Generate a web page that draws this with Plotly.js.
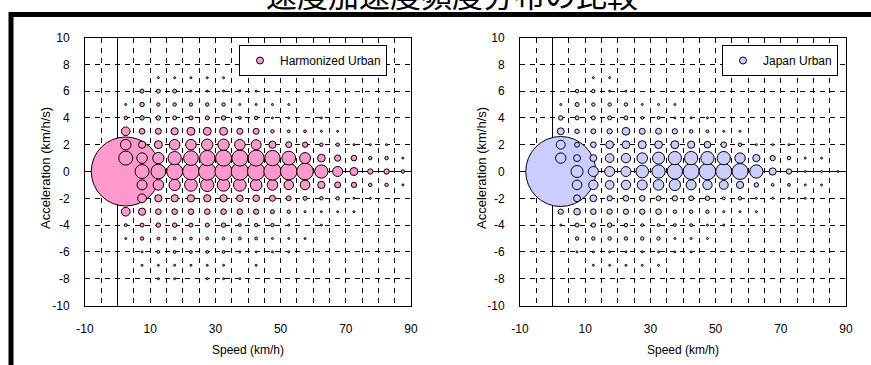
<!DOCTYPE html>
<html>
<head>
<meta charset="utf-8">
<script src="https://cdn.plot.ly/plotly-3.0.1.min.js"></script>
<style>
html,body{margin:0;padding:0;background:#fff;}
#chart{width:871px;height:365px;}
</style>
</head>
<body>
<div id="chart"></div>
<script>
// ---- data (frequency counts) ----
const speedBins = [2.5, 7.5, 12.5, 17.5, 22.5, 27.5, 32.5, 37.5, 42.5, 47.5, 52.5, 57.5, 62.5, 67.5, 72.5, 77.5, 82.5, 87.5];
const accelBins = [7, 6, 5, 4, 3, 2, 1, 0, -1, -2, -3, -4, -5, -6, -7, -8];

const harmonizedUrban = [
  [0, 0, 1, 1, 1, 1, 1, 0, 0, 0, 0, 0, 0, 0, 0, 0, 0, 0],
  [0, 4, 4, 4, 1, 1, 1, 1, 1, 0, 0, 0, 0, 0, 0, 0, 0, 0],
  [1, 5, 3, 3, 3, 3, 3, 1, 1, 1, 1, 0, 0, 0, 0, 0, 0, 0],
  [3, 5, 5, 4, 4, 4, 5, 2, 3, 1, 1, 0, 1, 0, 0, 0, 0, 0],
  [19, 8, 9, 13, 16, 16, 16, 9, 9, 3, 2, 2, 1, 1, 0, 0, 0, 0],
  [28, 13, 16, 28, 28, 32, 32, 28, 25, 13, 9, 7, 3, 3, 1, 1, 1, 0],
  [49, 28, 32, 44, 54, 59, 64, 64, 64, 59, 47, 30, 15, 10, 8, 3, 3, 1],
  [1190, 49, 54, 64, 69, 75, 75, 75, 75, 75, 69, 69, 44, 25, 16, 7, 7, 3],
  [36, 25, 28, 32, 40, 44, 40, 40, 34, 28, 23, 23, 13, 9, 7, 3, 3, 1],
  [20, 19, 13, 13, 13, 13, 13, 11, 11, 9, 6, 4, 3, 3, 1, 1, 0, 0],
  [19, 13, 8, 8, 8, 8, 8, 8, 7, 4, 3, 1, 1, 1, 1, 0, 0, 0],
  [2, 4, 5, 5, 4, 4, 5, 2, 3, 3, 1, 0, 1, 0, 0, 0, 0, 0],
  [1, 3, 2, 2, 2, 2, 2, 2, 2, 1, 1, 1, 0, 0, 0, 0, 0, 0],
  [0, 1, 2, 2, 2, 2, 2, 1, 1, 1, 1, 0, 0, 0, 0, 0, 0, 0],
  [0, 1, 1, 1, 1, 1, 1, 0, 1, 0, 0, 0, 0, 0, 0, 0, 0, 0],
  [0, 0, 1, 1, 0, 1, 1, 1, 0, 0, 0, 0, 0, 0, 0, 0, 0, 0]
];

const japanUrban = [
  [0, 0, 1, 1, 0, 0, 0, 0, 0, 0, 0, 0, 0, 0, 0, 0, 0, 0],
  [0, 3, 3, 1, 1, 0, 0, 0, 0, 0, 0, 0, 0, 0, 0, 0, 0, 0],
  [1, 4, 3, 3, 3, 1, 1, 1, 0, 0, 0, 0, 0, 0, 0, 0, 0, 0],
  [5, 4, 4, 4, 4, 2, 2, 1, 1, 1, 0, 0, 0, 0, 0, 0, 0, 0],
  [12, 5, 6, 7, 15, 9, 9, 7, 3, 2, 1, 1, 0, 0, 0, 0, 0, 0],
  [20, 6, 8, 15, 15, 16, 15, 16, 13, 11, 8, 3, 1, 1, 1, 0, 0, 0],
  [27, 12, 12, 19, 22, 28, 36, 44, 44, 44, 44, 27, 13, 7, 3, 1, 1, 0],
  [1225, 36, 25, 25, 25, 40, 44, 59, 64, 69, 64, 64, 44, 13, 7, 1, 1, 1],
  [30, 23, 22, 19, 22, 25, 28, 32, 25, 22, 20, 13, 5, 2, 2, 1, 1, 0],
  [16, 12, 12, 7, 8, 8, 6, 7, 6, 5, 2, 3, 1, 1, 1, 1, 0, 0],
  [7, 11, 8, 7, 7, 7, 8, 3, 3, 3, 1, 1, 1, 0, 0, 0, 0, 0],
  [1, 4, 5, 5, 3, 2, 2, 2, 2, 1, 1, 0, 0, 0, 0, 0, 0, 0],
  [0, 3, 3, 3, 3, 3, 3, 1, 1, 1, 0, 0, 0, 0, 0, 0, 0, 0],
  [0, 1, 1, 1, 1, 1, 1, 1, 1, 0, 0, 0, 0, 0, 0, 0, 0, 0],
  [0, 0, 1, 1, 1, 1, 1, 0, 0, 0, 0, 0, 0, 0, 0, 0, 0, 0],
  [0, 0, 0, 0, 0, 0, 0, 0, 0, 0, 0, 0, 0, 0, 0, 0, 0, 0]
];

const seriesNames = ['Harmonized Urban', 'Japan Urban'];
const xTickVals = [-10, 10, 30, 50, 70, 90];
const yTickVals = [-10, -8, -6, -4, -2, 0, 2, 4, 6, 8, 10];
const chartTitle = '速度加速度頻度分布の比較';
const xTitle = 'Speed (km/h)';
const yTitle = 'Acceleration (km/h/s)';

// ---- build points: speed-major, acceleration ascending (drawing order) ----
function buildPoints(matrix) {
  const xs = [], ys = [], ss = [];
  speedBins.forEach((sp, j) => {
    for (let i = accelBins.length - 1; i >= 0; i--) {
      const v = matrix[i][j];
      if (v > 0) { xs.push(sp); ys.push(accelBins[i]); ss.push(v); }
    }
  });
  return { xs, ys, ss };
}

const W = 871, H = 365;
const FONT = 'Liberation Sans, Arial, sans-serif';
const colors = ['#FF99CC', '#CCCCFF'];
const maxVal = Math.max(...harmonizedUrban.flat(), ...japanUrban.flat());
const sizeref = 2 * maxVal / (70 * 70);

const traces = [];
[harmonizedUrban, japanUrban].forEach((m, k) => {
  const p = buildPoints(m);
  const ax = k === 0 ? '' : '2';
  traces.push({
    type: 'scatter', mode: 'markers',
    x: p.xs, y: p.ys, xaxis: 'x' + ax, yaxis: 'y' + ax,
    name: seriesNames[k], showlegend: false, hoverinfo: 'skip',
    marker: { size: p.ss, sizemode: 'area', sizeref: sizeref, sizemin: 0,
      color: colors[k], opacity: 1, line: { color: '#000', width: 1 } }
  });
  traces.push({
    type: 'scatter', mode: 'markers',
    x: [null], y: [null], xaxis: 'x' + ax, yaxis: 'y' + ax,
    name: seriesNames[k], showlegend: true, legend: k === 0 ? 'legend' : 'legend2',
    marker: { size: 7, color: colors[k], line: { color: '#000', width: 1 } }
  });
});

const dashPat = '5px,5px';
function xAxis(dom, anchor) {
  return {
    domain: dom, anchor: anchor, range: [-10, 90],
    tickmode: 'array', tickvals: xTickVals, ticktext: xTickVals.map(String),
    ticks: '', ticklabelstandoff: 12,
    tickfont: { family: FONT, size: 12, color: '#000' },
    showgrid: true, gridcolor: '#000', gridwidth: 1, griddash: dashPat,
    minor: { tickmode: 'linear', tick0: 0, dtick: 5, showgrid: true, gridcolor: '#000', gridwidth: 1, griddash: dashPat, ticks: '' },
    zeroline: true, zerolinecolor: '#000', zerolinewidth: 1,
    showline: true, mirror: true, linecolor: '#000', linewidth: 1,
    fixedrange: true
  };
}
function yAxis(dom, anchor) {
  return {
    domain: dom, anchor: anchor, range: [-10, 10],
    tickmode: 'array', tickvals: yTickVals, ticktext: yTickVals.map(String),
    ticks: '', ticklabelstandoff: 12,
    tickfont: { family: FONT, size: 12, color: '#000' },
    showgrid: true, gridcolor: '#000', gridwidth: 1, griddash: dashPat,
    zeroline: true, zerolinecolor: '#000', zerolinewidth: 1,
    showline: true, mirror: true, linecolor: '#000', linewidth: 1,
    fixedrange: true
  };
}

const yDom = [1 - 305.5 / H, 1 - 37.5 / H];
const axTitleFont = { family: FONT, size: 12, color: '#000' };
const yTitleFont = { family: FONT, size: 13, color: '#000' };
const legendCommon = {
  yanchor: 'top', xanchor: 'right', y: 1 - 45 / H,
  bgcolor: '#fff', bordercolor: '#000', borderwidth: 1,
  font: { family: FONT, size: 12, color: '#000' }, itemwidth: 30
};

const layout = {
  width: W, height: H,
  margin: { l: 0, r: 0, t: 0, b: 0 },
  paper_bgcolor: '#fff', plot_bgcolor: '#fff',
  showlegend: true,
  title: { text: chartTitle, font: { family: 'Noto Sans CJK JP, sans-serif', size: 31, color: '#000' },
    x: 452 / W, xanchor: 'center', xref: 'container', y: 1 - 7 / H, yanchor: 'bottom', yref: 'container' },
  xaxis: xAxis([85 / W, 411 / W], 'y'),
  yaxis: yAxis(yDom, 'x'),
  xaxis2: xAxis([520 / W, 846 / W], 'y2'),
  yaxis2: yAxis(yDom, 'x2'),
  legend: Object.assign({}, legendCommon, { x: 387 / W }),
  legend2: Object.assign({}, legendCommon, { x: 838 / W }),
  annotations: [
    { text: yTitle, xref: 'paper', yref: 'paper', x: 45 / W, y: 1 - 168 / H, textangle: -90, showarrow: false, font: yTitleFont, xanchor: 'center', yanchor: 'middle' },
    { text: yTitle, xref: 'paper', yref: 'paper', x: 481 / W, y: 1 - 168 / H, textangle: -90, showarrow: false, font: yTitleFont, xanchor: 'center', yanchor: 'middle' },
    { text: xTitle, xref: 'paper', yref: 'paper', x: 248 / W, y: 1 - 350 / H, showarrow: false, font: axTitleFont, xanchor: 'center', yanchor: 'middle' },
    { text: xTitle, xref: 'paper', yref: 'paper', x: 683 / W, y: 1 - 350 / H, showarrow: false, font: axTitleFont, xanchor: 'center', yanchor: 'middle' }
  ],
  shapes: [
    { type: 'rect', xref: 'paper', yref: 'paper', x0: 11 / W, x1: 1.3, y0: -0.3, y1: 1 - 14.5 / H,
      line: { color: '#000', width: 5 }, fillcolor: 'rgba(0,0,0,0)', layer: 'above' }
  ]
};

Plotly.newPlot('chart', traces, layout, { displayModeBar: false, staticPlot: true });
</script>
</body>
</html>
